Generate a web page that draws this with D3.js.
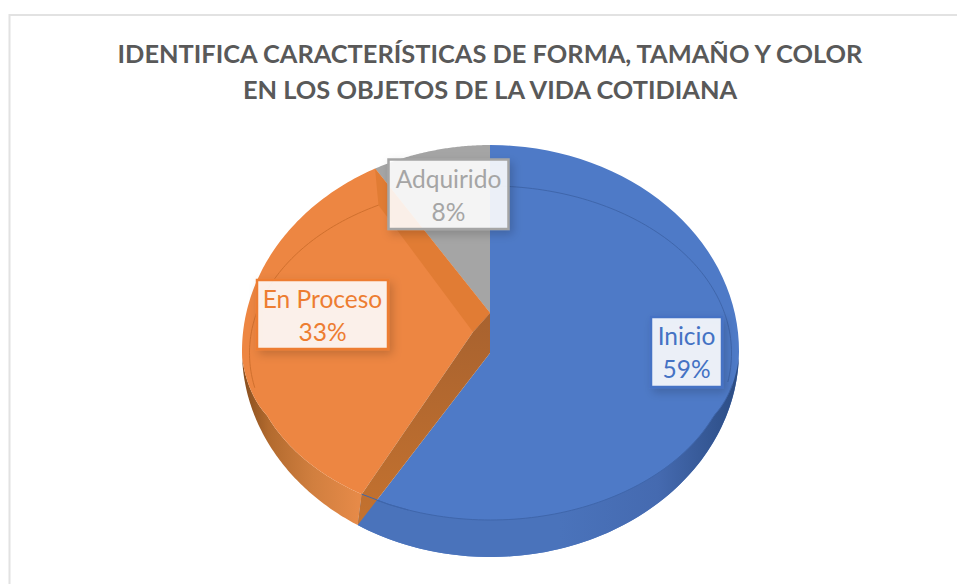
<!DOCTYPE html>
<html>
<head>
<meta charset="utf-8">
<script src="https://cdn.jsdelivr.net/npm/d3@7"></script>
<style>
body { margin: 0; background: #fff; }
svg { display: block; }
text { font-family: Lato, "Open Sans", sans-serif; }
</style>
</head>
<body>
<script>
// chart data
var titleLines = ["IDENTIFICA CARACTERÍSTICAS DE FORMA, TAMAÑO Y COLOR", "EN LOS OBJETOS DE LA VIDA COTIDIANA"];
var categories = ["Inicio", "En Proceso", "Adquirido"];
var counts = [23, 13, 3];
var colors = ["#4e7ac7", "#ed8642", "#a5a5a5"];
var textColors = ["#4472c4", "#ed7d31", "#a5a5a5"];

var svgWidth = 957;
var svgHeight = 584;

var svg = d3.select("body")
	.append("svg")
		.attr("width", svgWidth)
		.attr("height", svgHeight);

var defs = svg.append("defs");

function addGradient(id, x1, y1, x2, y2, stops){
	var g = defs.append("linearGradient")
		.attr("id", id)
		.attr("gradientUnits", "userSpaceOnUse")
		.attr("x1", x1).attr("y1", y1)
		.attr("x2", x2).attr("y2", y2);
	stops.forEach(function(s){
		g.append("stop").attr("offset", s[0]).attr("stop-color", s[1]);
	});
}
addGradient("wallBlue", 560, 0, 738, 0, [[0, "#4a73bb"], [0.55, "#456ab0"], [1, "#2c4d85"]]);
addGradient("wallOrange", 246, 0, 358, 0, [[0, "#8c5120"], [0.2, "#b26a2e"], [0.6, "#d17f3f"], [1, "#e68a48"]]);
addGradient("wallInner", 0, 313, 0, 526, [[0, "#a8622f"], [1, "#c4722f"]]);

var shadow = defs.append("filter")
	.attr("id", "labelShadow")
	.attr("x", "-20%").attr("y", "-20%")
	.attr("width", "150%").attr("height", "150%");
shadow.append("feDropShadow")
	.attr("dx", 3).attr("dy", 4)
	.attr("stdDeviation", 5)
	.attr("flood-color", "#000")
	.attr("flood-opacity", 0.2);

// chart frame, runs off the right and bottom of the picture
svg.append("rect")
	.attr("x", 9.5).attr("y", 15)
	.attr("width", svgWidth + 20).attr("height", svgHeight + 20)
	.attr("fill", "#fff")
	.attr("stroke", "#e2e2e2")
	.attr("stroke-width", 2);

svg.append("g").selectAll("text")
	.data(titleLines)
	.join("text")
		.attr("x", 490)
		.attr("y", function(d, i){ return 63 + i * 36; })
		.attr("text-anchor", "middle")
		.attr("fill", "#595959")
		.attr("font-size", 25.4)
		.attr("font-weight", 700)
		.text(function(d){ return d; });

// two ellipses: silhouette of the disc, and the seam where top face meets the side
function makeEllipse(cx, cy, rx, ry){
	return {
		x: d3.scaleLinear().domain([-1, 1]).range([cx - rx, cx + rx]),
		y: d3.scaleLinear().domain([-1, 1]).range([cy - ry, cy + ry])
	};
}
var outer = makeEllipse(490.5, 351, 248.5, 206);
var inner = makeEllipse(490.5, 353, 241, 167);

function pt(e, a){
	return [e.x(Math.sin(a)), e.y(-Math.cos(a))];
}
function arc(e, a0, a1){
	var n = 80, pts = [];
	for(var i = 0; i <= n; i++){
		pts.push(pt(e, a0 + (a1 - a0) * i / n));
	}
	return pts;
}
// top edge of the side wall: leaves the silhouette at aStart and settles onto the seam at aEnd
function wallEdge(a0, a1, aStart, aEnd){
	var t = d3.scaleLinear().domain([aStart, aEnd]).range([0, 1]).clamp(true);
	var n = 80, pts = [];
	for(var i = 0; i <= n; i++){
		var a = a0 + (a1 - a0) * i / n;
		pts.push(d3.interpolate(pt(outer, a), pt(inner, a))(t(a)));
	}
	return pts;
}
var deg = Math.PI / 180;

var slices = d3.pie().sort(null)(counts);
var blue = slices[0];
var orange = slices[1];
var gray = slices[2];

// corners of the tilted cut
var topVertex = [490, 313];
var faceVertex = [473, 332];
var baseVertex = [490, 353];

var line = d3.line();
var g = svg.append("g");

function poly(pts, fill){
	return g.append("path")
		.attr("d", line(pts) + "Z")
		.attr("fill", fill);
}
function seam(a0, a1, color){
	g.append("path")
		.attr("d", line(arc(inner, a0, a1)))
		.attr("fill", "none")
		.attr("stroke", color)
		.attr("stroke-width", 1);
}

// gray slice
poly([[490, 145]].concat(arc(outer, gray.endAngle, gray.startAngle)).concat([topVertex]), colors[2]);

// blue slice
poly([[490, 145]].concat(arc(outer, blue.startAngle, blue.endAngle)).concat([baseVertex]), colors[0]);
poly(arc(outer, 92 * deg, blue.endAngle).concat(wallEdge(blue.endAngle, 92 * deg, 92 * deg, 112 * deg)), "url(#wallBlue)");
seam(blue.startAngle, 100 * deg, "#3f66ab");
g.append("path")
	.attr("d", line(wallEdge(blue.endAngle, 100 * deg, 92 * deg, 112 * deg)))
	.attr("fill", "none")
	.attr("stroke", "#3f66ab")
	.attr("stroke-width", 1);

// orange slice
var leftStart = 268 * deg;
var leftEnd = 248 * deg;
poly(arc(outer, orange.startAngle, leftStart).concat(wallEdge(leftStart, orange.startAngle, leftStart, leftEnd)), "url(#wallOrange)");
poly(arc(outer, orange.endAngle, leftStart).concat(wallEdge(leftStart, orange.startAngle, leftStart, leftEnd)).concat([faceVertex, topVertex]), colors[1]);
poly([pt(outer, orange.endAngle), pt(inner, orange.endAngle), faceVertex, topVertex], "#e17c34");
seam(orange.endAngle, 258 * deg, "#d0702e");

// inner wall showing between the orange and blue faces
poly([faceVertex, topVertex, baseVertex, pt(outer, orange.startAngle), pt(inner, orange.startAngle)], "url(#wallInner)");
g.append("path")
	.attr("d", line([pt(inner, orange.startAngle), pt(inner, 205 * deg), pt(inner, 200 * deg)]))
	.attr("fill", "none")
	.attr("stroke", "#3f66ab")
	.attr("stroke-width", 1);

// data labels
var labelBoxes = [
	{x: 651, y: 317, w: 71, h: 70},
	{x: 257, y: 280, w: 131, h: 69},
	{x: 388.5, y: 159.5, w: 120, h: 69.5}
];
var total = d3.sum(counts);
var labels = svg.append("g").selectAll("g")
	.data(categories)
	.join("g");
labels.append("rect")
	.attr("x", function(d, i){ return labelBoxes[i].x; })
	.attr("y", function(d, i){ return labelBoxes[i].y; })
	.attr("width", function(d, i){ return labelBoxes[i].w; })
	.attr("height", function(d, i){ return labelBoxes[i].h; })
	.attr("fill", "#fff")
	.attr("fill-opacity", 0.88)
	.attr("stroke", function(d, i){ return textColors[i]; })
	.attr("stroke-width", 2.5)
	.attr("filter", "url(#labelShadow)");
labels.append("text")
	.attr("x", function(d, i){ return labelBoxes[i].x + labelBoxes[i].w / 2; })
	.attr("y", function(d, i){ return labelBoxes[i].y + 28; })
	.attr("text-anchor", "middle")
	.attr("font-size", 24.5)
	.attr("fill", function(d, i){ return textColors[i]; })
	.text(function(d){ return d; });
labels.append("text")
	.attr("x", function(d, i){ return labelBoxes[i].x + labelBoxes[i].w / 2; })
	.attr("y", function(d, i){ return labelBoxes[i].y + 61; })
	.attr("text-anchor", "middle")
	.attr("font-size", 24.5)
	.attr("fill", function(d, i){ return textColors[i]; })
	.text(function(d, i){ return Math.round(counts[i] / total * 100) + "%"; });
</script>
</body>
</html>
